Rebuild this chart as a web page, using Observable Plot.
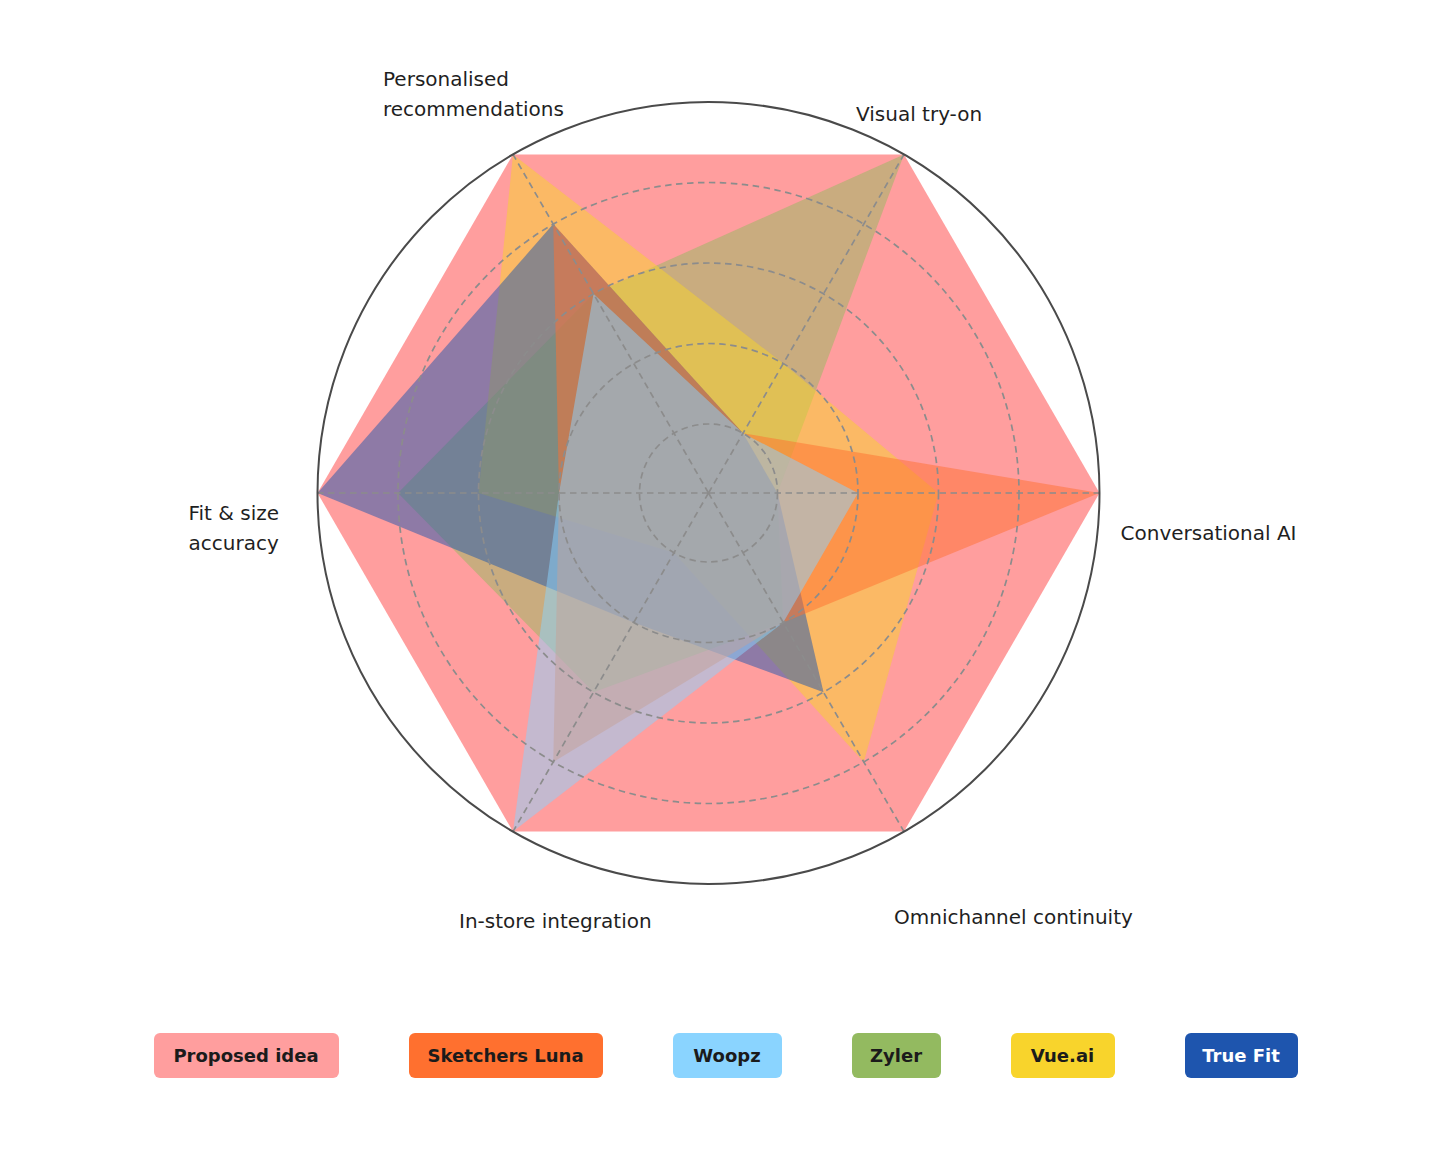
<!DOCTYPE html>
<html>
<head>
<meta charset="utf-8">
<script src="https://cdn.jsdelivr.net/npm/d3@7"></script>
<script src="https://cdn.jsdelivr.net/npm/@observablehq/plot@0.6"></script>
<style>
  html, body { margin: 0; padding: 0; background: #ffffff; }
  body { font-family: "DejaVu Sans", "Noto Sans", sans-serif; width: 1451px; }
  #chart svg { display: block; }
  #legend { display: flex; justify-content: center; gap: 70px; margin-top: 53px; }
  .item { height: 45px; border-radius: 6px; display: flex; align-items: center; justify-content: center;
          font-family: "DejaVu Sans", sans-serif; font-weight: bold; font-size: 18px; color: #1b1b1b; box-sizing: border-box; }
</style>
</head>
<body>
<div id="chart"></div>
<div id="legend"></div>
<script>
// ---- data ----
const axes = ["Conversational AI", "Visual try-on", "Personalised recommendations", "Fit & size accuracy", "In-store integration", "Omnichannel continuity"];
const axisLabels = ["Conversational AI", "Visual try-on", "Personalised\nrecommendations", "Fit & size\naccuracy", "In-store integration", "Omnichannel continuity"];
const seriesNames = ["Proposed idea", "Sketchers Luna", "Woopz", "Zyler", "Vue.ai", "True Fit"];
const proposedIdea  = [5, 5, 5, 5, 5, 5];
const sketchersLuna = [5, 1, 4, 2, 4, 2];
const woopz         = [2, 1, 3, 2, 5, 2];
const zyler         = [1, 5, 3, 4, 3, 2];
const vueAi         = [3, 2, 5, 3, 1, 4];
const trueFit       = [1, 1, 4, 5, 2, 3];
const ringValues = [1, 2, 3, 4];
const maxValue = 5;

// ---- styling ----
const seriesValues = [proposedIdea, sketchersLuna, woopz, zyler, vueAi, trueFit];
const seriesColors = ["#FF9E9E", "#FF702F", "#8AD4FF", "#93BA60", "#F8D42C", "#1E55AE"];
const seriesOpacity = [1, 0.5, 0.5, 0.5, 0.5, 0.5];
const drawOrder = ["Proposed idea", "Zyler", "Vue.ai", "True Fit", "Sketchers Luna", "Woopz"];
const legendWidths = [185, 194, 109, 89, 104, 113];
const legendText = ["#1b1b1b", "#1b1b1b", "#1b1b1b", "#1b1b1b", "#1b1b1b", "#ffffff"];
// label offsets (px) from the tip of each spoke: [dx, dy]
const labelOffsets = [[21, 37], [-48, -43], [-130, -63], [-129, 32], [-54, 87], [-10, 83]];

const W = 1451, H = 980, cx = 708, cy = 492.5;
const radius = d3.scaleLinear().domain([1, maxValue]).range([69, 391]);
const angle = (i) => (i * Math.PI) / 3; // counter-clockwise from the right
const px = (v, i) => radius(v) * Math.cos(angle(i));
const py = (v, i) => -radius(v) * Math.sin(angle(i));

const points = (name) => {
  const k = seriesNames.indexOf(name);
  return axes.map((a, i) => ({ series: name, axis: a, i, value: seriesValues[k][i] }));
};

const marks = [];
// polygons
for (const name of drawOrder) {
  const k = seriesNames.indexOf(name);
  marks.push(Plot.line(points(name), {
    x: (d) => px(d.value, d.i),
    y: (d) => py(d.value, d.i),
    curve: "linear-closed",
    fill: seriesColors[k],
    fillOpacity: seriesOpacity[k],
    stroke: "none"
  }));
}
// dashed rings
for (const v of ringValues) {
  marks.push(Plot.dot([v], {
    x: () => 0, y: () => 0, r: radius(v),
    fill: "none", stroke: "#8c8c8c", strokeWidth: 1.7, strokeDasharray: "6.5,4.5"
  }));
}
// dashed spokes
marks.push(Plot.link(axes.map((a, i) => ({ i })), {
  x1: () => 0, y1: () => 0,
  x2: (d) => px(maxValue, d.i), y2: (d) => py(maxValue, d.i),
  stroke: "#8c8c8c", strokeWidth: 1.7, strokeDasharray: "6.5,4.5"
}));
// outer circle
marks.push(Plot.dot([maxValue], {
  x: () => 0, y: () => 0, r: radius(maxValue),
  fill: "none", stroke: "#4a4a4a", strokeWidth: 2
}));
// axis labels
axisLabels.forEach((label, i) => {
  marks.push(Plot.text([{ i, label }], {
    x: (d) => px(maxValue, d.i), y: (d) => py(maxValue, d.i),
    text: "label",
    dx: labelOffsets[i][0], dy: labelOffsets[i][1],
    textAnchor: "start", lineAnchor: "middle",
    lineHeight: 1.5, fontSize: 20, fill: "#1f1f1f",
    fontFamily: "DejaVu Sans, sans-serif"
  }));
});

const chart = Plot.plot({
  width: W, height: H,
  margin: 0, marginTop: 0, marginRight: 0, marginBottom: 0, marginLeft: 0,
  x: { domain: [-cx, W - cx], range: [0, W], axis: null },
  y: { domain: [-cy, H - cy], range: [0, H], axis: null },
  style: { background: "#ffffff", overflow: "visible" },
  marks
});
document.getElementById("chart").appendChild(chart);

// legend
const legend = document.getElementById("legend");
seriesNames.forEach((name, k) => {
  const el = document.createElement("div");
  el.className = "item";
  el.textContent = name;
  el.style.background = seriesColors[k];
  el.style.width = legendWidths[k] + "px";
  el.style.color = legendText[k];
  legend.appendChild(el);
});
</script>
</body>
</html>
